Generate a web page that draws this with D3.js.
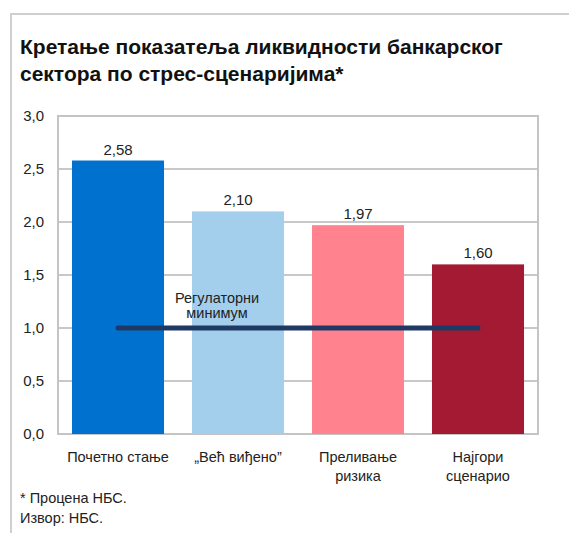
<!DOCTYPE html>
<html>
<head>
<meta charset="utf-8">
<script src="https://cdn.jsdelivr.net/npm/d3@7"></script>
<style>
  body { margin: 0; background: #fff; }
  svg { font-family: "Liberation Sans", Arial, sans-serif; }
</style>
</head>
<body>
<script>
// Chart data
var categories = [["Почетно стање"], ["„Већ виђено”"], ["Преливање", "ризика"], ["Најгори", "сценарио"]];
var values = [2.58, 2.10, 1.97, 1.60];
var barColors = ["#0071CE", "#A3CFEC", "#FF828E", "#A51A33"];
var minimum = 1.0;
var yTicks = [0, 0.5, 1.0, 1.5, 2.0, 2.5, 3.0];

var W = 569, H = 533;
var fmt = function(v, d) { return v.toFixed(d).replace(".", ","); };

var svg = d3.select("body")
    .append("svg")
    .attr("width", W)
    .attr("height", H);

// outer frame (top and left edges only)
svg.append("path")
    .attr("d", "M11,533 V14 H569")
    .attr("fill", "none")
    .attr("stroke", "#cfcfcf")
    .attr("stroke-width", 2);

// title
var title = svg.append("text")
    .attr("x", 20)
    .attr("y", 54)
    .attr("font-size", 21)
    .attr("font-weight", "bold")
    .attr("fill", "#111");
title.append("tspan").attr("x", 20).text("Кретање показатеља ликвидности банкарског");
title.append("tspan").attr("x", 20).attr("dy", 27).text("сектора по стрес-сценаријима*");

var x = d3.scaleBand()
    .domain(d3.range(categories.length))
    .range([58, 538])
    .paddingInner(0.233)
    .paddingOuter(0.1165);

var y = d3.scaleLinear()
    .domain([0, 3])
    .range([434, 116]);

// gridlines
svg.selectAll(".grid")
    .data(yTicks)
    .enter()
    .append("line")
    .attr("class", "grid")
    .attr("x1", 58)
    .attr("x2", 538)
    .attr("y1", d => y(d))
    .attr("y2", d => y(d))
    .attr("stroke", "#c8c8c8")
    .attr("stroke-width", 2);

// plot border
svg.append("rect")
    .attr("x", 58)
    .attr("y", 116)
    .attr("width", 480)
    .attr("height", 318)
    .attr("fill", "none")
    .attr("stroke", "#c4c4c4")
    .attr("stroke-width", 2);

// y labels
svg.selectAll(".ylab")
    .data(yTicks)
    .enter()
    .append("text")
    .attr("class", "ylab")
    .attr("x", 44)
    .attr("y", d => y(d) + 5)
    .attr("text-anchor", "end")
    .attr("font-size", 15)
    .attr("fill", "#222")
    .text(d => fmt(d, 1));

// bars
svg.selectAll(".bar")
    .data(values)
    .enter()
    .append("rect")
    .attr("class", "bar")
    .attr("x", (d, i) => x(i))
    .attr("width", x.bandwidth())
    .attr("y", d => y(d))
    .attr("height", d => y(0) - y(d))
    .attr("fill", (d, i) => barColors[i]);

// value labels
svg.selectAll(".val")
    .data(values)
    .enter()
    .append("text")
    .attr("class", "val")
    .attr("x", (d, i) => x(i) + x.bandwidth() / 2)
    .attr("y", d => y(d) - 6)
    .attr("text-anchor", "middle")
    .attr("font-size", 15)
    .attr("fill", "#222")
    .text(d => fmt(d, 2));

// regulatory minimum line
var mid = i => x(i) + x.bandwidth() / 2;
svg.append("line")
    .attr("x1", mid(0))
    .attr("x2", mid(categories.length - 1))
    .attr("y1", y(minimum))
    .attr("y2", y(minimum))
    .attr("stroke", "#1E3A64")
    .attr("stroke-width", 5)
    .attr("stroke-linecap", "round");

var reg = svg.append("text")
    .attr("text-anchor", "middle")
    .attr("font-size", 14.5)
    .attr("fill", "#222")
    .attr("y", y(minimum) - 25);
reg.append("tspan").attr("x", 217).text("Регулаторни");
reg.append("tspan").attr("x", 217).attr("dy", 15).text("минимум");

// x labels
var xl = svg.selectAll(".xlab")
    .data(categories)
    .enter()
    .append("text")
    .attr("class", "xlab")
    .attr("text-anchor", "middle")
    .attr("font-size", 14.5)
    .attr("fill", "#222")
    .attr("y", 462);
xl.selectAll("tspan")
    .data((d, i) => d.map(t => ({ t: t, i: i })))
    .enter()
    .append("tspan")
    .attr("x", d => mid(d.i))
    .attr("dy", (d, j) => j ? 19 : 0)
    .text(d => d.t);

// footnotes
svg.append("text")
    .attr("x", 20)
    .attr("y", 503)
    .attr("font-size", 14.5)
    .attr("fill", "#222")
    .text("* Процена НБС.");
svg.append("text")
    .attr("x", 20)
    .attr("y", 523)
    .attr("font-size", 14.5)
    .attr("fill", "#222")
    .text("Извор: НБС.");
</script>
</body>
</html>
